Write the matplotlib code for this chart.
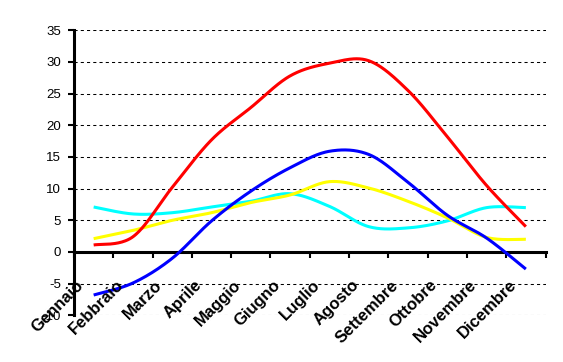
import numpy as np
import matplotlib
matplotlib.use('Agg')
import matplotlib.pyplot as plt
from matplotlib.transforms import ScaledTranslation

months = ['Gennaio', 'Febbraio', 'Marzo', 'Aprile', 'Maggio', 'Giugno',
          'Luglio', 'Agosto', 'Settembre', 'Ottobre', 'Novembre', 'Dicembre']
red = [1.1, 2.4, 10.2, 17.7, 22.8, 27.8, 29.8, 30.2, 25.5, 18.2, 10.5, 4.0]
blue = [-6.8, -4.9, -1.0, 4.9, 9.6, 13.3, 15.9, 15.4, 11.0, 5.8, 2.2, -2.7]
yellow = [2.1, 3.4, 5.0, 6.2, 7.8, 9.0, 11.1, 10.1, 8.0, 5.4, 2.3, 2.0]
cyan = [7.1, 6.0, 6.2, 7.1, 8.0, 9.2, 7.2, 4.0, 3.8, 4.9, 7.0, 7.0]
yticks = list(range(-10, 36, 5))

plt.rcParams['font.family'] = ['Liberation Sans', 'DejaVu Sans']


def smooth(x, y, n=40):
    pts = np.column_stack([x, y]).astype(float)
    P = np.vstack([pts[0], pts, pts[-1]])
    t = np.linspace(0, 1, n)[:, None]
    out = []
    for i in range(1, len(P) - 2):
        p0, p1, p2, p3 = P[i - 1], P[i], P[i + 1], P[i + 2]
        c1 = p1 + (p2 - p0) / 6
        c2 = p2 - (p3 - p1) / 6
        seg = ((1 - t) ** 3) * p1 + 3 * ((1 - t) ** 2) * t * c1 + 3 * (1 - t) * t ** 2 * c2 + t ** 3 * p2
        out.append(seg if i == 1 else seg[1:])
    a = np.vstack(out)
    return a[:, 0], a[:, 1]


fig = plt.figure(figsize=(5.63, 3.62), dpi=100)
ax = fig.add_axes([74 / 563, 1 - 315.3 / 362, 471.5 / 563, 285 / 362])

x = np.arange(len(months))
for vals, col in [(cyan, '#00FFFF'), (yellow, '#FFFF00'), (blue, '#0000FF'), (red, '#FF0000')]:
    sx, sy = smooth(x, vals)
    ax.plot(sx, sy, color=col, lw=2.2, solid_capstyle='butt', zorder=3)

ax.set_xlim(-0.5, len(months) - 0.5)
ax.set_ylim(-10, 35)
for v in yticks:
    ax.axhline(v, color='black', lw=0.75, ls=(0, (3, 3)), zorder=1)

ax.spines['top'].set_visible(False)
ax.spines['right'].set_visible(False)
ax.spines['left'].set_linewidth(2.2)
ax.spines['bottom'].set_position(('data', 0))
ax.spines['bottom'].set_linewidth(2.2)

ax.set_yticks(yticks)
ax.set_yticklabels([str(v) for v in yticks], fontsize=9.5)
ax.tick_params(axis='y', direction='out', length=4.3, width=1.5, pad=5)

ax.set_xticks(np.arange(-0.5, len(months), 1.0))
ax.set_xticklabels([])
ax.tick_params(axis='x', direction='out', length=4.3, width=1.5)

off = ScaledTranslation(-9 / 100, -34 / 100, fig.dpi_scale_trans)
for i, m in enumerate(months):
    ax.text(i, 0, m, rotation=45, ha='right', va='baseline', rotation_mode='anchor',
            fontsize=12, fontweight='bold', transform=ax.transData + off, zorder=4,
            clip_on=False)

fig.savefig('out.png', dpi=100)
